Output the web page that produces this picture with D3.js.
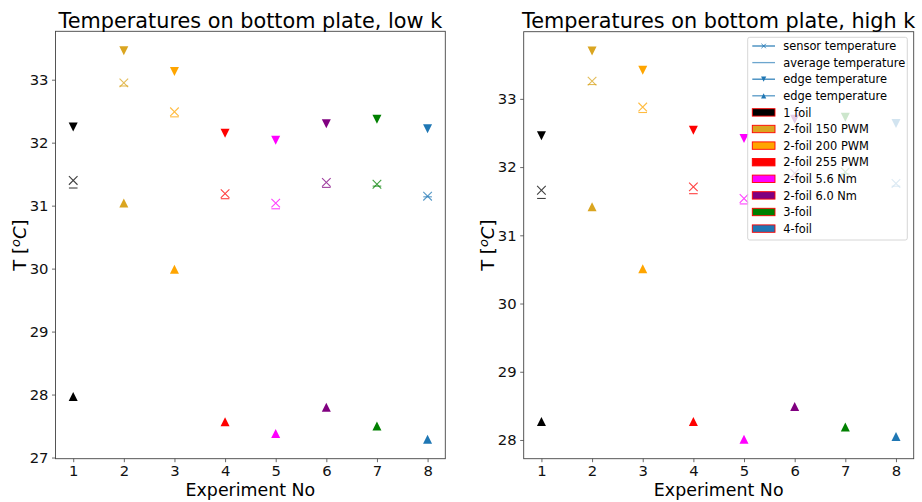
<!DOCTYPE html>
<html>
<head>
<meta charset="utf-8">
<script src="https://cdn.jsdelivr.net/npm/d3@7"></script>
<style>
  body { margin: 0; background: #fff; }
  svg text { font-family: "DejaVu Sans", sans-serif; }
</style>
</head>
<body>
<div id="chart"></div>
<script>
// data
var experiments = [1, 2, 3, 4, 5, 6, 7, 8]
var setups = ["1 foil", "2-foil 150 PWM", "2-foil 200 PWM", "2-foil 255 PWM", "2-foil 5.6 Nm", "2-foil 6.0 Nm", "3-foil", "4-foil"]
var setupColors = ["#000000", "#daa520", "#ffa500", "#ff0000", "#ff00ff", "#800080", "#008000", "#1f77b4"]

var lowSensor  = [31.40, 32.95, 32.49, 31.19, 31.04, 31.37, 31.34, 31.15]
var lowAverage = [31.28, 32.90, 32.41, 31.11, 30.95, 31.29, 31.31, 31.14]
var lowEdgeTop = [32.25, 33.46, 33.13, 32.15, 32.04, 32.30, 32.37, 32.22]
var lowEdgeBot = [27.97, 31.04, 29.99, 27.57, 27.38, 27.80, 27.50, 27.29]

var highSensor  = [31.66, 33.26, 32.88, 31.71, 31.54, 31.91, 31.93, 31.76]
var highAverage = [31.54, 33.21, 32.80, 31.61, 31.46, 31.86, 31.90, 31.72]
var highEdgeTop = [32.46, 33.70, 33.42, 32.54, 32.42, 32.70, 32.73, 32.64]
var highEdgeBot = [28.27, 31.42, 30.51, 28.27, 28.01, 28.49, 28.19, 28.05]

var legendLines = ["sensor temperature", "average temperature", "edge temperature", "edge temperature"]

var width = 922
var height = 502

var svg = d3.select("#chart").append("svg").attr("width", width).attr("height", height)

// marker paths, matplotlib style (bbox centred)
function triDown(x, y, s) { return "M" + (x - s) + "," + (y - s) + "L" + (x + s) + "," + (y - s) + "L" + x + "," + (y + s) + "Z" }
function triUp(x, y, s) { return "M" + (x - s) + "," + (y + s) + "L" + (x + s) + "," + (y + s) + "L" + x + "," + (y - s) + "Z" }
function cross(x, y, s) { return "M" + (x - s) + "," + (y - s) + "L" + (x + s) + "," + (y + s) + "M" + (x - s) + "," + (y + s) + "L" + (x + s) + "," + (y - s) }
function hline(x, y, s) { return "M" + (x - s) + "," + y + "L" + (x + s) + "," + y }

function drawPanel(left, right, top, bottom, title, sensor, average, edgeTop, edgeBot) {
	var all = sensor.concat(average, edgeTop, edgeBot)
	var yMin = d3.min(all), yMax = d3.max(all)
	var pad = (yMax - yMin) * 0.05
	var xScale = d3.scaleLinear().domain([0.65, 8.35]).range([left, right])
	var yScale = d3.scaleLinear().domain([yMin - pad, yMax + pad]).range([bottom, top])

	var g = svg.append("g")

	var yTicks = d3.range(Math.ceil(yMin - pad), Math.floor(yMax + pad) + 1)

	var xAxis = g.append("g").attr("transform", "translate(0," + bottom + ")")
		.call(d3.axisBottom(xScale).tickValues(experiments).tickSize(3.5).tickPadding(3.8).tickFormat(d3.format("d")))
	var yAxis = g.append("g").attr("transform", "translate(" + left + ",0)")
		.call(d3.axisLeft(yScale).tickValues(yTicks).tickSize(3.5).tickPadding(3.5).tickFormat(d3.format("d")))
	;[xAxis, yAxis].forEach(function(a) {
		a.select(".domain").remove()
		a.selectAll("line").attr("stroke", "#444").attr("stroke-width", 0.8)
		a.selectAll("text").attr("font-size", "14.8px").attr("fill", "#111")
			.attr("font-family", "DejaVu Sans, sans-serif")
	})

	// frame
	g.append("rect").attr("x", left).attr("y", top).attr("width", right - left).attr("height", bottom - top)
		.attr("fill", "none").attr("stroke", "#444").attr("stroke-width", 0.9)

	// markers
	experiments.forEach(function(e, i) {
		var cx = xScale(e)
		var c = setupColors[i]
		g.append("path").attr("d", hline(cx, yScale(average[i]), 4.3))
			.attr("stroke", c).attr("stroke-width", 1.1).attr("opacity", 0.75)
		g.append("path").attr("d", cross(cx, yScale(sensor[i]), 4.3))
			.attr("stroke", c).attr("stroke-width", 1.1).attr("fill", "none").attr("opacity", 0.75)
		g.append("path").attr("d", triDown(cx, yScale(edgeTop[i]), 4.5)).attr("fill", c)
		g.append("path").attr("d", triUp(cx, yScale(edgeBot[i]), 4.5)).attr("fill", c)
	})

	// title and labels
	svg.append("text").attr("x", (left + right) / 2).attr("y", 28).attr("text-anchor", "middle")
		.attr("font-size", "20.8px").attr("fill", "#000").text(title)
	svg.append("text").attr("x", (left + right) / 2).attr("y", 496).attr("text-anchor", "middle")
		.attr("font-size", "17.4px").attr("fill", "#000").text("Experiment No")
	var yl = svg.append("text").attr("transform", "translate(" + (left - 30) + "," + ((top + bottom) / 2) + ") rotate(-90)")
		.attr("text-anchor", "middle").attr("font-size", "18px").attr("fill", "#000")
	yl.append("tspan").text("T [")
	yl.append("tspan").attr("font-style", "italic").attr("font-size", "13px").attr("dy", -6).text("o")
	yl.append("tspan").attr("font-style", "italic").attr("dy", 6).text("C")
	yl.append("tspan").text("]")
}

drawPanel(55.5, 445.3, 31.3, 458.7, "Temperatures on bottom plate, low k", lowSensor, lowAverage, lowEdgeTop, lowEdgeBot)
drawPanel(523.7, 913.7, 31.7, 458.7, "Temperatures on bottom plate, high k", highSensor, highAverage, highEdgeTop, highEdgeBot)

// legend (right panel, upper right)
var lg = svg.append("g")
lg.append("rect").attr("x", 747.7).attr("y", 37.3).attr("width", 159.6).attr("height", 202.7).attr("rx", 2)
	.attr("fill", "#fff").attr("fill-opacity", 0.8).attr("stroke", "#cccccc").attr("stroke-width", 0.8)

var rowY = function(i) { return 46 + i * 16.6 }
var hx0 = 752.3, hx1 = 775, hxc = (hx0 + hx1) / 2
var lineOpacity = [0.9, 0.65, 0.9, 0.75]
legendLines.forEach(function(name, i) {
	var y = rowY(i)
	lg.append("line").attr("x1", hx0).attr("x2", hx1).attr("y1", y).attr("y2", y)
		.attr("stroke", "#1f77b4").attr("stroke-width", 1.3).attr("opacity", lineOpacity[i])
	if (i == 0) lg.append("path").attr("d", cross(hxc, y, 2.2)).attr("stroke", "#1f77b4").attr("stroke-width", 0.9)
	if (i == 2) lg.append("path").attr("d", triDown(hxc, y, 2.6)).attr("fill", "#1f77b4")
	if (i == 3) lg.append("path").attr("d", triUp(hxc, y, 2.6)).attr("fill", "#1f77b4")
	lg.append("text").attr("x", 783.3).attr("y", y).attr("dy", "0.36em")
		.attr("font-size", "11.4px").attr("fill", "#000").text(name)
})
setups.forEach(function(name, i) {
	var y = rowY(i + 4)
	lg.append("rect").attr("x", hx0).attr("y", y - 3.7).attr("width", hx1 - hx0).attr("height", 7.4)
		.attr("fill", setupColors[i]).attr("stroke", "#ff0000").attr("stroke-width", 0.9)
	lg.append("text").attr("x", 783.3).attr("y", y).attr("dy", "0.36em")
		.attr("font-size", "11.4px").attr("fill", "#000").text(name)
})
</script>
</body>
</html>
